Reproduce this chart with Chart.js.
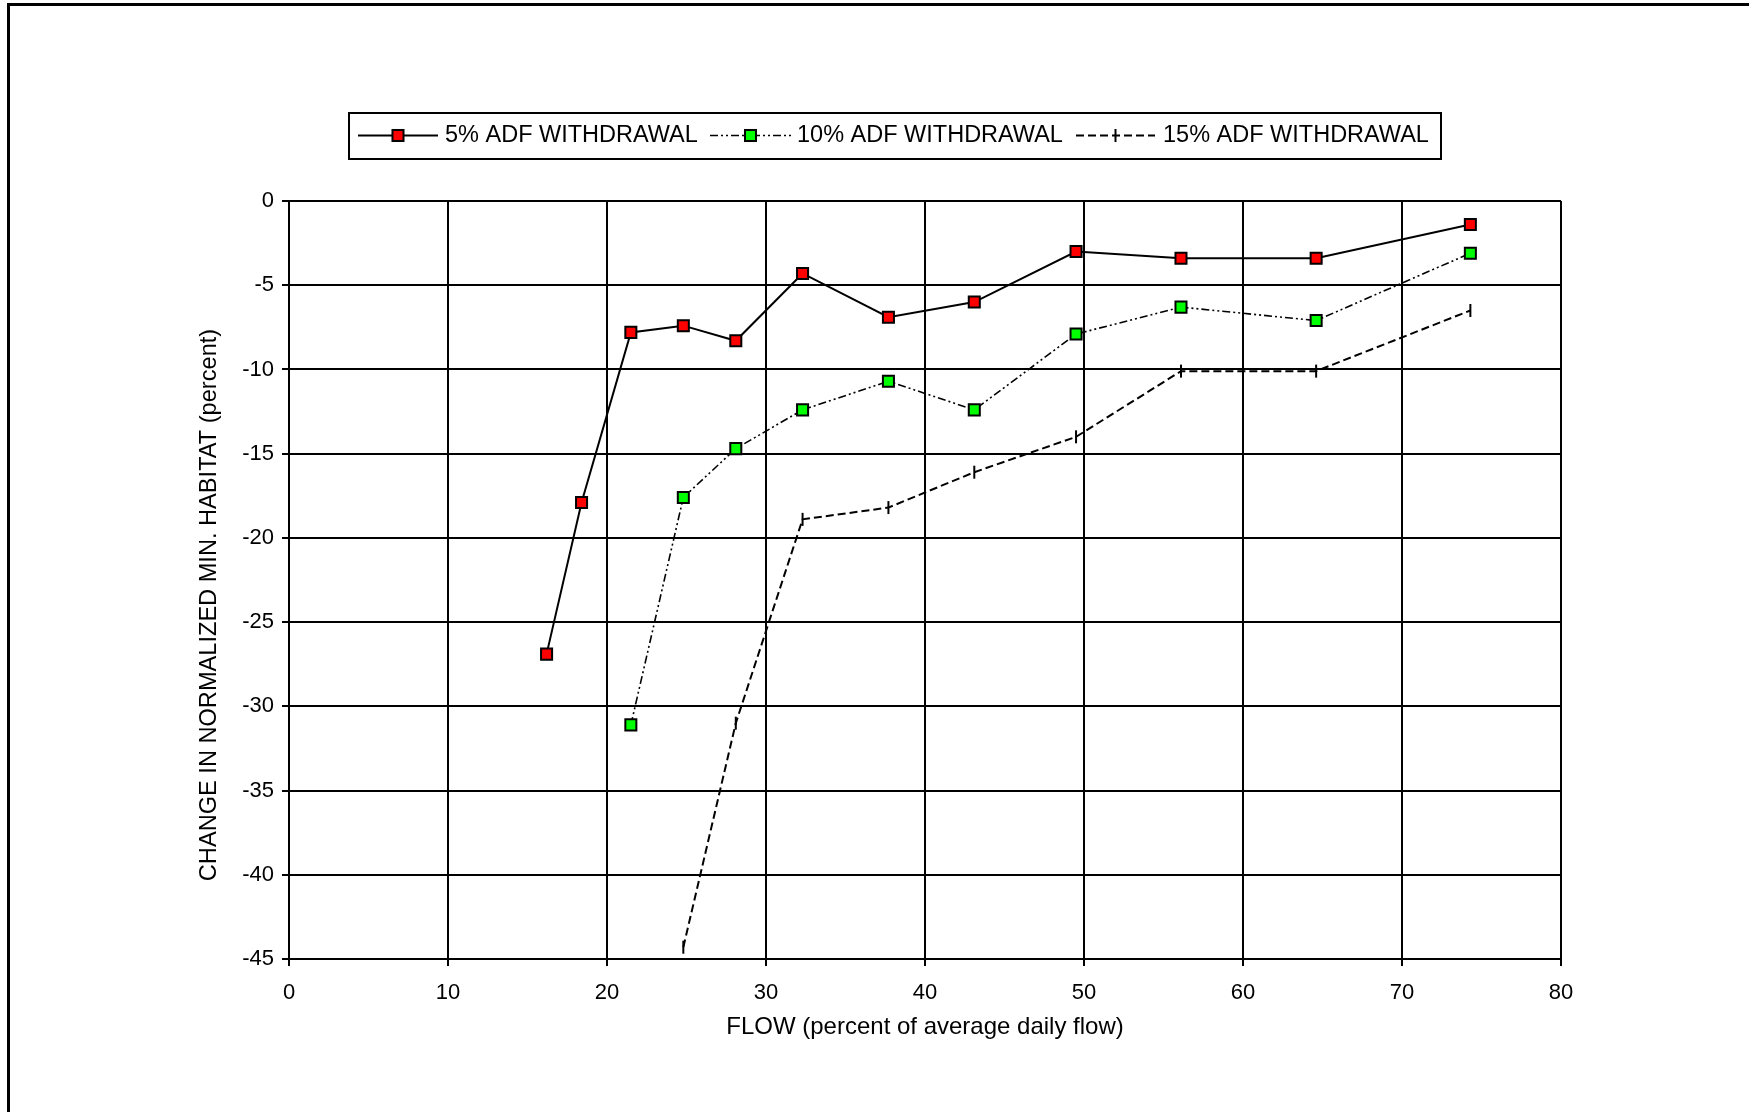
<!DOCTYPE html>
<html>
<head>
<meta charset="utf-8">
<script src="https://cdn.jsdelivr.net/npm/chart.js@4.4.1/dist/chart.umd.min.js"></script>
<style>
  html, body { margin: 0; padding: 0; background: #ffffff; }
  #wrap { position: relative; width: 1749px; height: 1112px; overflow: hidden; }
  canvas { display: block; }
</style>
</head>
<body>
<div id="wrap"><canvas id="c" width="1749" height="1112"></canvas></div>
<script>
// ---- data ----
const seriesLabels = ['5% ADF WITHDRAWAL', '10% ADF WITHDRAWAL', '15% ADF WITHDRAWAL'];

const flow5  = [16.2, 18.4, 21.5, 24.8, 28.1, 32.3, 37.7, 43.1, 49.5, 56.1, 64.6, 74.3];
const hab5   = [-26.9, -17.9, -7.8, -7.4, -8.3, -4.3, -6.9, -6.0, -3.0, -3.4, -3.4, -1.4];

const flow10 = [21.5, 24.8, 28.1, 32.3, 37.7, 43.1, 49.5, 56.1, 64.6, 74.3];
const hab10  = [-31.1, -17.6, -14.7, -12.4, -10.7, -12.4, -7.9, -6.3, -7.1, -3.1];

const flow15 = [24.8, 28.1, 32.3, 37.7, 43.1, 49.5, 56.1, 64.6, 74.3];
const hab15  = [-44.3, -31.0, -18.9, -18.2, -16.1, -14.0, -10.1, -10.1, -6.5];

const xTicks = [0, 10, 20, 30, 40, 50, 60, 70, 80];
const yTicks = [0, -5, -10, -15, -20, -25, -30, -35, -40, -45];

const xTitle = 'FLOW (percent of average daily flow)';
const yTitle = 'CHANGE IN NORMALIZED MIN. HABITAT (percent)';

function pts(xs, ys) { return xs.map((x, i) => ({ x: x, y: ys[i] })); }

const FONT = '"Liberation Sans", Arial, Helvetica, sans-serif';

// ---- plugins ----
const framePlugin = {
  id: 'frame',
  beforeDraw(chart) {
    const ctx = chart.ctx;
    ctx.save();
    ctx.fillStyle = '#ffffff';
    ctx.fillRect(0, 0, chart.width, chart.height);
    ctx.fillStyle = '#000000';
    ctx.fillRect(7, 3, chart.width - 7, 3);
    ctx.fillRect(7, 3, 3, chart.height - 3);
    ctx.restore();
  }
};

const yTitlePlugin = {
  id: 'yTitle',
  afterDraw(chart) {
    const ctx = chart.ctx;
    ctx.save();
    ctx.translate(209, 605);
    ctx.rotate(-Math.PI / 2);
    ctx.fillStyle = '#000';
    ctx.font = '23.6px ' + FONT;
    ctx.textAlign = 'center';
    ctx.textBaseline = 'middle';
    ctx.fillText(yTitle, 0, 0);
    ctx.restore();
  }
};

const legendPlugin = {
  id: 'boxLegend',
  afterDraw(chart) {
    const ctx = chart.ctx;
    const box = { l: 349, t: 113, r: 1441, b: 159 };
    const cy = 135.5;
    const items = [
      { x0: 358, x1: 438, text: 445 },
      { x0: 710, x1: 791, text: 797 },
      { x0: 1076, x1: 1155, text: 1163 }
    ];
    ctx.save();
    ctx.lineWidth = 2;
    ctx.strokeStyle = '#000';
    ctx.strokeRect(box.l, box.t, box.r - box.l, box.b - box.t);
    chart.data.datasets.forEach((ds, i) => {
      const it = items[i];
      ctx.save();
      ctx.strokeStyle = ds.borderColor;
      ctx.lineWidth = ds.borderWidth;
      ctx.setLineDash(ds.borderDash || []);
      ctx.beginPath();
      ctx.moveTo(it.x0, cy);
      ctx.lineTo(it.x1, cy);
      ctx.stroke();
      ctx.restore();
      const mx = (it.x0 + it.x1) / 2;
      ctx.save();
      ctx.lineWidth = ds.pointBorderWidth;
      ctx.strokeStyle = ds.pointBorderColor;
      if (ds.pointStyle === 'rect') {
        const s = Math.SQRT1_2 * ds.pointRadius;
        ctx.fillStyle = ds.pointBackgroundColor;
        ctx.fillRect(mx - s, cy - s, 2 * s, 2 * s);
        ctx.strokeRect(mx - s, cy - s, 2 * s, 2 * s);
      } else {
        ctx.beginPath();
        ctx.moveTo(mx, cy - ds.pointRadius);
        ctx.lineTo(mx, cy + ds.pointRadius);
        ctx.stroke();
      }
      ctx.restore();
      ctx.fillStyle = '#000';
      ctx.font = '23.5px ' + FONT;
      ctx.textBaseline = 'middle';
      ctx.textAlign = 'left';
      ctx.fillText(ds.label, it.text, cy);
    });
    ctx.restore();
  }
};

new Chart(document.getElementById('c'), {
  type: 'scatter',
  data: {
    datasets: [
      {
        label: seriesLabels[0],
        data: pts(flow5, hab5),
        showLine: true,
        borderColor: '#000000',
        borderWidth: 2,
        pointStyle: 'rect',
        pointRadius: 7.8,
        pointBackgroundColor: '#ff0000',
        pointBorderColor: '#000000',
        pointBorderWidth: 2
      },
      {
        label: seriesLabels[1],
        data: pts(flow10, hab10),
        showLine: true,
        borderColor: '#000000',
        borderWidth: 1.6,
        borderDash: [8, 3, 2, 3, 2, 3],
        pointStyle: 'rect',
        pointRadius: 7.8,
        pointBackgroundColor: '#00ff00',
        pointBorderColor: '#000000',
        pointBorderWidth: 2
      },
      {
        label: seriesLabels[2],
        data: pts(flow15, hab15),
        showLine: true,
        borderColor: '#000000',
        borderWidth: 2,
        borderDash: [8, 4],
        pointStyle: 'line',
        pointRotation: 90,
        pointRadius: 6.5,
        pointBackgroundColor: '#000000',
        pointBorderColor: '#000000',
        pointBorderWidth: 2
      }
    ]
  },
  options: {
    responsive: false,
    animation: false,
    events: [],
    layout: { padding: { top: 201, right: 188, bottom: 0, left: 0 } },
    plugins: {
      legend: { display: false },
      tooltip: { enabled: false }
    },
    scales: {
      x: {
        type: 'linear',
        min: xTicks[0],
        max: xTicks[xTicks.length - 1],
        afterBuildTicks: s => { s.ticks = xTicks.map(v => ({ value: v })); },
        afterFit: s => { s.height = 153; },
        grid: { color: '#000', lineWidth: 2, tickLength: 7, drawTicks: true },
        border: { color: '#000', width: 2 },
        ticks: { color: '#000', font: { family: FONT, size: 22 }, padding: 14, maxRotation: 0 },
        title: {
          display: true, text: xTitle, color: '#000',
          font: { family: FONT, size: 24 },
          padding: { top: 0, bottom: 70 }
        }
      },
      y: {
        type: 'linear',
        min: yTicks[yTicks.length - 1],
        max: yTicks[0],
        afterBuildTicks: s => { s.ticks = yTicks.slice().reverse().map(v => ({ value: v })); },
        afterFit: s => { s.width = 289; },
        grid: { color: '#000', lineWidth: 2, tickLength: 7, drawTicks: true },
        border: { color: '#000', width: 2 },
        ticks: { color: '#000', font: { family: FONT, size: 22 }, padding: 8 },
        title: { display: false }
      }
    }
  },
  plugins: [framePlugin, legendPlugin, yTitlePlugin]
});
</script>
</body>
</html>
